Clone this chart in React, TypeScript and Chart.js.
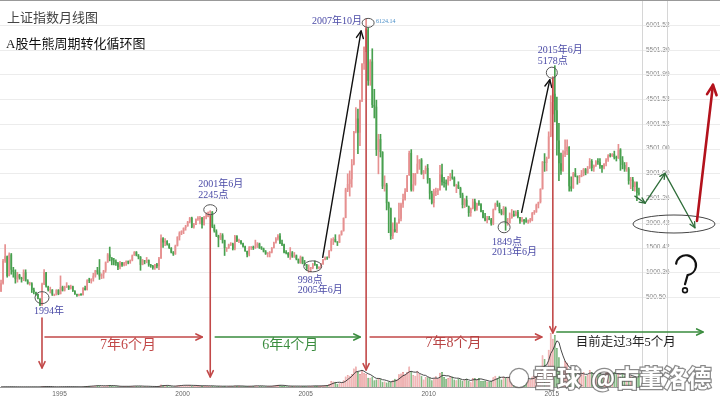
import React, { useEffect, useRef } from 'react';
import { Chart, registerables } from 'chart.js';
Chart.register(...registerables);

// ---------- categories (monthly, 1992-12 .. 2018-12) ----------
const firstYear = 1992;
const firstMonth = 12;
const slotCount = 313;
const months: string[] = [];
for (let i = 0; i < slotCount; i++) {
  const t = firstYear * 12 + (firstMonth - 1) + i;
  months.push(`${Math.floor(t / 12)}-${String((t % 12) + 1).padStart(2, '0')}`);
}

// ---------- monthly OHLC (open of a month = previous close) ----------
const firstOpen = 620;
const close1992 = [780];
const high1992 = [840];
const low1992 = [610];
const close1993 = [1234, 1324, 925, 1358, 1050, 1007, 860, 950, 890, 865, 1000, 833];
const high1993 = [1260, 1558, 1330, 1392, 1380, 1100, 1050, 1000, 960, 900, 1050, 1050];
const low1993 = [760, 1200, 900, 925, 960, 900, 780, 800, 860, 800, 830, 820];
const close1994 = [770, 775, 644, 600, 560, 467, 333, 760, 1000, 710, 640, 648];
const high1994 = [850, 800, 790, 680, 600, 560, 470, 780, 1052, 1000, 720, 700];
const low1994 = [760, 740, 590, 560, 530, 460, 325, 330, 750, 700, 620, 580];
const close1995 = [550, 550, 640, 560, 700, 630, 700, 720, 670, 715, 620, 555];
const high1995 = [650, 560, 650, 650, 927, 720, 720, 790, 730, 740, 720, 630];
const low1995 = [530, 525, 540, 545, 560, 620, 620, 690, 650, 660, 610, 550];
const close1996 = [537, 540, 538, 680, 640, 840, 830, 860, 930, 1040, 1000, 917];
const high1996 = [560, 560, 570, 690, 720, 850, 880, 870, 980, 1040, 1100, 1258];
const low1996 = [512, 520, 530, 535, 640, 640, 790, 780, 820, 900, 960, 855];
const close1997 = [960, 1035, 1200, 1360, 1290, 1240, 1220, 1180, 1100, 1200, 1140, 1194];
const high1997 = [970, 1040, 1210, 1380, 1510, 1300, 1280, 1250, 1200, 1220, 1200, 1200];
const low1997 = [870, 880, 1000, 1200, 1230, 1150, 1150, 1140, 1050, 1070, 1120, 1130];
const close1998 = [1220, 1200, 1240, 1340, 1410, 1340, 1310, 1150, 1240, 1220, 1250, 1147];
const high1998 = [1230, 1230, 1250, 1350, 1420, 1420, 1360, 1320, 1260, 1240, 1300, 1250];
const low1998 = [1140, 1170, 1180, 1230, 1340, 1330, 1270, 1040, 1150, 1170, 1190, 1120];
const close1999 = [1130, 1090, 1160, 1120, 1280, 1690, 1600, 1630, 1560, 1490, 1400, 1366];
const high1999 = [1160, 1140, 1160, 1180, 1300, 1756, 1700, 1680, 1640, 1580, 1500, 1420];
const low1999 = [1100, 1060, 1060, 1090, 1050, 1280, 1500, 1540, 1550, 1480, 1390, 1340];
const close2000 = [1535, 1715, 1800, 1836, 1894, 1930, 2020, 2100, 1910, 1960, 2070, 2073];
const high2000 = [1550, 1720, 1820, 1840, 1900, 1950, 2030, 2110, 2115, 1990, 2080, 2125];
const low2000 = [1360, 1530, 1650, 1760, 1780, 1850, 1930, 2000, 1900, 1890, 1960, 2050];
const close2001 = [2100, 1960, 2110, 2120, 2214, 2218, 1920, 1830, 1740, 1690, 1750, 1646];
const high2001 = [2130, 2110, 2130, 2200, 2220, 2245, 2230, 1960, 1860, 1750, 1790, 1780];
const low2001 = [1980, 1893, 1950, 2080, 2120, 2150, 1900, 1810, 1720, 1514, 1660, 1590];
const close2002 = [1490, 1490, 1560, 1580, 1470, 1730, 1630, 1640, 1580, 1520, 1430, 1357];
const high2002 = [1650, 1500, 1570, 1600, 1590, 1748, 1740, 1670, 1640, 1590, 1530, 1430];
const low2002 = [1339, 1420, 1480, 1540, 1450, 1450, 1620, 1600, 1570, 1510, 1420, 1311];
const close2003 = [1500, 1510, 1490, 1520, 1580, 1490, 1480, 1420, 1370, 1390, 1400, 1497];
const high2003 = [1520, 1520, 1530, 1650, 1600, 1590, 1520, 1490, 1440, 1400, 1420, 1500];
const low2003 = [1330, 1460, 1460, 1480, 1500, 1480, 1460, 1410, 1360, 1310, 1310, 1390];
const close2004 = [1600, 1680, 1740, 1590, 1560, 1400, 1390, 1340, 1400, 1320, 1340, 1266];
const high2004 = [1610, 1700, 1760, 1783, 1650, 1570, 1440, 1400, 1500, 1420, 1400, 1350];
const low2004 = [1490, 1590, 1650, 1580, 1540, 1390, 1370, 1300, 1260, 1300, 1300, 1250];
const close2005 = [1190, 1306, 1180, 1160, 1060, 1080, 1083, 1162, 1155, 1092, 1099, 1161];
const high2005 = [1270, 1330, 1310, 1240, 1160, 1150, 1100, 1180, 1230, 1160, 1110, 1180];
const low2005 = [1180, 1180, 1170, 1140, 1040, 998, 1005, 1070, 1140, 1070, 1070, 1090];
const close2006 = [1258, 1299, 1298, 1440, 1641, 1672, 1612, 1601, 1752, 1837, 2099, 2675];
const high2006 = [1260, 1310, 1300, 1440, 1680, 1700, 1760, 1620, 1760, 1840, 2100, 2700];
const low2006 = [1160, 1250, 1260, 1290, 1430, 1560, 1610, 1540, 1600, 1750, 1830, 2100];
const close2007 = [2786, 2881, 3183, 3841, 4109, 3820, 4471, 5218, 5552, 5955, 4871, 5262];
const high2007 = [2990, 3050, 3280, 3850, 4330, 4300, 4480, 5220, 5560, 6124, 5900, 5300];
const low2007 = [2630, 2540, 2720, 3170, 3820, 3400, 3560, 4450, 5100, 5460, 4780, 4780];
const close2008 = [4383, 4348, 3473, 3693, 3433, 2736, 2775, 2397, 2293, 1729, 1871, 1821];
const high2008 = [5520, 4700, 4480, 3790, 3790, 3440, 2950, 2800, 2420, 2300, 2000, 2100];
const low2008 = [4330, 4120, 3360, 2990, 3330, 2690, 2640, 2260, 1800, 1665, 1680, 1810];
const close2009 = [1991, 2083, 2373, 2478, 2633, 2959, 3412, 2667, 2779, 2996, 3195, 3277];
const high2009 = [2000, 2400, 2400, 2580, 2690, 2960, 3450, 3480, 3000, 3000, 3360, 3280];
const low2009 = [1800, 1990, 2040, 2310, 2460, 2630, 2960, 2640, 2640, 2760, 3000, 3080];
const close2010 = [2989, 3051, 3110, 2871, 2592, 2398, 2638, 2638, 2656, 2979, 2820, 2808];
const high2010 = [3300, 3060, 3150, 3180, 2900, 2640, 2680, 2700, 2690, 3160, 3186, 2920];
const low2010 = [2980, 2890, 2990, 2800, 2480, 2380, 2320, 2550, 2570, 2660, 2760, 2720];
const close2011 = [2790, 2905, 2928, 2911, 2743, 2762, 2701, 2567, 2359, 2468, 2333, 2199];
const high2011 = [2870, 2940, 3000, 3067, 2930, 2780, 2830, 2720, 2600, 2490, 2540, 2340];
const low2011 = [2660, 2760, 2850, 2880, 2740, 2610, 2690, 2510, 2300, 2307, 2330, 2130];
const close2012 = [2292, 2429, 2263, 2397, 2373, 2225, 2103, 2048, 2086, 2069, 1980, 2269];
const high2012 = [2300, 2480, 2480, 2400, 2450, 2390, 2250, 2190, 2130, 2130, 2090, 2280];
const low2012 = [2132, 2280, 2240, 2250, 2350, 2220, 2100, 2040, 2000, 2060, 1950, 1960];
const close2013 = [2385, 2365, 2237, 2178, 2301, 1979, 1994, 2098, 2175, 2141, 2220, 2116];
const high2013 = [2400, 2444, 2400, 2270, 2330, 2320, 2090, 2200, 2270, 2240, 2240, 2250];
const low2013 = [2260, 2330, 2200, 2160, 2160, 1849, 1950, 1990, 2090, 2130, 2140, 2100];
const close2014 = [2033, 2056, 2033, 2026, 2039, 2048, 2201, 2217, 2364, 2420, 2683, 3235];
const high2014 = [2110, 2110, 2070, 2100, 2060, 2090, 2210, 2250, 2380, 2420, 2690, 3240];
const low2014 = [1990, 2020, 1974, 2010, 1990, 2010, 2040, 2170, 2210, 2300, 2400, 2680];
const close2015 = [3210, 3310, 3748, 4442, 4612, 4277, 3664, 3206, 3053, 3383, 3445, 3539];
const high2015 = [3400, 3330, 3840, 4570, 4960, 5178, 4540, 4010, 3410, 3460, 3680, 3680];
const low2015 = [3040, 3050, 3300, 3740, 4200, 4040, 3370, 2850, 2980, 3040, 3340, 3380];
const close2016 = [2738, 2688, 3004, 2938, 2917, 2930, 2979, 3085, 3005, 3100, 3250, 3104];
const high2016 = [3540, 2930, 3020, 3100, 2950, 2960, 3060, 3100, 3100, 3140, 3300, 3280];
const low2016 = [2640, 2640, 2710, 2930, 2780, 2810, 2930, 2950, 2970, 3000, 3100, 3050];
const close2017 = [3159, 3242, 3223, 3155, 3117, 3192, 3273, 3361, 3349, 3393, 3317, 3307];
const high2017 = [3170, 3260, 3300, 3300, 3160, 3200, 3300, 3380, 3400, 3400, 3450, 3350];
const low2017 = [3040, 3140, 3180, 3100, 3020, 3090, 3150, 3240, 3330, 3340, 3290, 3250];
const close2018 = [3481, 3259, 3169, 3082, 3095, 2847, 2876, 2725, 2821, 2603, 2588];
const high2018 = [3587, 3500, 3340, 3220, 3220, 3120, 2920, 2920, 2830, 2830, 2700];
const low2018 = [3300, 3060, 3090, 3040, 3040, 2780, 2690, 2650, 2640, 2449, 2560];

// monthly volume (亿股)
const vol1992 = [30];
const vol1993 = [60, 90, 70, 80, 60, 50, 40, 50, 40, 35, 60, 45];
const vol1994 = [40, 35, 50, 40, 35, 30, 40, 180, 220, 120, 80, 70];
const vol1995 = [50, 40, 60, 50, 150, 80, 90, 100, 80, 90, 70, 50];
const vol1996 = [50, 40, 60, 150, 180, 250, 280, 260, 320, 400, 450, 400];
const vol1997 = [200, 250, 350, 500, 550, 250, 200, 180, 200, 200, 150, 180];
const vol1998 = [200, 180, 250, 300, 350, 250, 200, 250, 200, 180, 220, 150];
const vol1999 = [120, 100, 150, 150, 300, 700, 450, 400, 300, 200, 180, 150];
const vol2000 = [350, 500, 550, 450, 400, 450, 500, 550, 350, 300, 400, 350];
const vol2001 = [350, 250, 350, 350, 300, 300, 300, 200, 180, 250, 250, 200];
const vol2002 = [250, 150, 250, 300, 200, 400, 300, 250, 200, 180, 200, 180];
const vol2003 = [300, 250, 300, 400, 350, 250, 250, 200, 200, 250, 250, 300];
const vol2004 = [400, 500, 600, 500, 300, 250, 200, 200, 350, 250, 250, 200];
const vol2005 = [200, 300, 250, 250, 200, 300, 250, 350, 350, 250, 250, 300];
const vol2006 = [400, 500, 500, 800, 1600, 1500, 1400, 900, 1000, 1200, 1800, 2800];
const vol2007 = [3200, 3000, 3500, 5000, 5500, 4000, 3500, 4500, 3800, 3500, 2500, 2500];
const vol2008 = [2800, 1800, 2000, 2400, 2200, 1400, 1500, 1200, 1500, 1400, 1800, 2200];
const vol2009 = [2000, 3400, 3600, 4000, 3300, 4000, 5500, 4200, 3200, 3000, 4400, 3500];
const vol2010 = [3000, 2000, 2700, 2600, 2400, 1800, 2300, 2900, 2300, 3800, 4000, 2700];
const vol2011 = [2200, 2400, 2900, 2800, 2000, 1800, 2300, 2100, 1600, 2000, 2300, 1600];
const vol2012 = [1300, 2400, 2400, 2000, 2400, 1700, 1700, 1600, 1500, 1400, 1600, 2600];
const vol2013 = [3000, 2400, 3000, 2000, 2800, 2500, 2600, 2900, 3200, 2700, 2500, 2500];
const vol2014 = [2300, 2600, 2400, 2000, 1900, 2000, 2800, 3200, 3700, 3800, 5200, 8500];
const vol2015 = [7500, 4500, 10000, 14500, 13000, 14000, 10500, 8000, 4500, 4800, 7000, 6500];
const vol2016 = [4000, 3000, 4500, 3800, 3000, 3200, 3800, 4000, 3000, 3200, 4600, 4000];
const vol2017 = [3000, 3300, 4200, 3700, 3000, 3000, 3900, 4200, 3400, 3000, 4100, 3400];
const vol2018 = [4000, 2800, 3800, 3100, 3300, 3000, 2900, 2700, 2200, 2400, 3600];

const closes = [...close1992, ...close1993, ...close1994, ...close1995, ...close1996, ...close1997, ...close1998, ...close1999, ...close2000, ...close2001, ...close2002, ...close2003, ...close2004, ...close2005, ...close2006, ...close2007, ...close2008, ...close2009, ...close2010, ...close2011, ...close2012, ...close2013, ...close2014, ...close2015, ...close2016, ...close2017, ...close2018];
const highs = [...high1992, ...high1993, ...high1994, ...high1995, ...high1996, ...high1997, ...high1998, ...high1999, ...high2000, ...high2001, ...high2002, ...high2003, ...high2004, ...high2005, ...high2006, ...high2007, ...high2008, ...high2009, ...high2010, ...high2011, ...high2012, ...high2013, ...high2014, ...high2015, ...high2016, ...high2017, ...high2018];
const lows = [...low1992, ...low1993, ...low1994, ...low1995, ...low1996, ...low1997, ...low1998, ...low1999, ...low2000, ...low2001, ...low2002, ...low2003, ...low2004, ...low2005, ...low2006, ...low2007, ...low2008, ...low2009, ...low2010, ...low2011, ...low2012, ...low2013, ...low2014, ...low2015, ...low2016, ...low2017, ...low2018];
const volumes = [...vol1992, ...vol1993, ...vol1994, ...vol1995, ...vol1996, ...vol1997, ...vol1998, ...vol1999, ...vol2000, ...vol2001, ...vol2002, ...vol2003, ...vol2004, ...vol2005, ...vol2006, ...vol2007, ...vol2008, ...vol2009, ...vol2010, ...vol2011, ...vol2012, ...vol2013, ...vol2014, ...vol2015, ...vol2016, ...vol2017, ...vol2018];
const opens = closes.map((c, i) => (i === 0 ? firstOpen : closes[i - 1]));

// ---------- axes ----------
const yTickValues = [6000, 5500, 5000, 4500, 4000, 3500, 3000, 2500, 2000, 1500, 1000, 500];
const yTickLabels = ['6001.52', '5501.30', '5001.99', '4501.53', '4001.52', '3501.00', '3001.00', '2501.26', '2000.42', '1500.42', '1000.36', '500.50'];
const xTickYears = ['1995', '2000', '2005', '2010', '2015'];

// ---------- key points of the cycle ----------
const keyMonths = ['1994-07', '2001-06', '2005-06', '2007-10', '2013-06', '2015-06'];
const keyValues = [325, 2245, 998, 6124, 1849, 5178];
// projected path (slot index, value)
const projSlots = [309, 314, 323.7, 338.3];
const projValues = [2540, 2400, 3000, 1900];
const rallySlots = [339.3, 347.1];
const rallyValues = [2040, 4790];
const supportSlot = 328.1;
const supportValue = 1976;

const UP = '#e69090';
const DOWN = '#48a04f';
const RED = '#c24848';
const GREEN = '#3a8c3e';
const BLUE = '#4a4aa6';
const SERIF_CJK = "'Liberation Serif', 'Noto Sans CJK SC', serif";
const CJK = "'Noto Sans CJK SC', sans-serif";

function arrow(ctx: CanvasRenderingContext2D, x1: number, y1: number, x2: number, y2: number, color: string, width: number, head: number) {
  ctx.save();
  ctx.strokeStyle = color;
  ctx.lineWidth = width;
  ctx.lineCap = 'round';
  ctx.lineJoin = 'round';
  const a = Math.atan2(y2 - y1, x2 - x1);
  ctx.beginPath();
  ctx.moveTo(x1, y1);
  ctx.lineTo(x2, y2);
  ctx.stroke();
  ctx.beginPath();
  ctx.moveTo(x2 - head * Math.cos(a - 0.45), y2 - head * Math.sin(a - 0.45));
  ctx.lineTo(x2, y2);
  ctx.lineTo(x2 - head * Math.cos(a + 0.45), y2 - head * Math.sin(a + 0.45));
  ctx.stroke();
  ctx.restore();
}

function ellipse(ctx: CanvasRenderingContext2D, x: number, y: number, rx: number, ry: number, color = '#555', w = 1) {
  ctx.save();
  ctx.strokeStyle = color;
  ctx.lineWidth = w;
  ctx.beginPath();
  ctx.ellipse(x, y, rx, ry, 0, 0, Math.PI * 2);
  ctx.stroke();
  ctx.restore();
}

function text(ctx: CanvasRenderingContext2D, s: string, x: number, y: number, font: string, color: string, align: CanvasTextAlign = 'left') {
  ctx.save();
  ctx.font = font;
  ctx.fillStyle = color;
  ctx.textAlign = align;
  ctx.textBaseline = 'middle';
  ctx.fillText(s, x, y);
  ctx.restore();
}

function questionMark(ctx: CanvasRenderingContext2D, cx: number, cy: number) {
  ctx.save();
  ctx.strokeStyle = '#111';
  ctx.lineWidth = 2.2;
  ctx.lineCap = 'round';
  ctx.beginPath();
  ctx.arc(cx, cy - 7, 10, Math.PI * 1.05, Math.PI * 2.45, false);
  ctx.lineTo(cx - 1, cy + 12);
  ctx.stroke();
  ctx.lineWidth = 1.6;
  ctx.beginPath();
  ctx.arc(cx - 1, cy + 18, 2.4, 0, Math.PI * 2);
  ctx.stroke();
  ctx.restore();
}

const annotPlugin = {
  id: 'annot',
  beforeDatasetsDraw(chart: any) {
    const ctx = chart.ctx as CanvasRenderingContext2D;
    const ys = chart.scales.y;
    const ca = chart.chartArea;
    ctx.save();
    ctx.strokeStyle = '#ececec';
    ctx.lineWidth = 1;
    yTickValues.forEach((v) => {
      const y = Math.round(ys.getPixelForValue(v)) + 0.5;
      ctx.beginPath();
      ctx.moveTo(0, y);
      ctx.lineTo(chart.width, y);
      ctx.stroke();
    });
    ctx.strokeStyle = '#d6d6d6';
    [ca.right + 0.5, ca.right + 25.5].forEach((x) => {
      ctx.beginPath();
      ctx.moveTo(x, 0);
      ctx.lineTo(x, ca.bottom);
      ctx.stroke();
    });
    ctx.strokeStyle = '#999';
    ctx.beginPath();
    ctx.moveTo(0, 0.5);
    ctx.lineTo(chart.width, 0.5);
    ctx.stroke();
    ctx.restore();
  },
  afterDatasetsDraw(chart: any) {
    const ctx = chart.ctx as CanvasRenderingContext2D;
    const xs = chart.scales.x;
    const ys = chart.scales.y;
    const ca = chart.chartArea;
    const bottom = ca.bottom;
    const P = keyMonths.map((m, i) => ({ x: xs.getPixelForValue(months.indexOf(m)), y: ys.getPixelForValue(keyValues[i]) }));

    // titles
    text(ctx, '上证指数月线图', 7, 17, `13px ${CJK}`, '#444');
    text(ctx, 'A股牛熊周期转化循环图', 6, 45, `13px ${SERIF_CJK}`, '#111');

    // circles
    ellipse(ctx, P[0].x + 2, P[0].y - 8, 7, 6);
    ellipse(ctx, P[1].x, P[1].y - 1, 6.5, 5);
    ellipse(ctx, P[2].x + 4, P[2].y - 6, 9, 5.5);
    ellipse(ctx, P[3].x + 2, P[3].y + 4, 6, 4.5);
    ellipse(ctx, P[4].x - 1.5, P[4].y - 3, 6, 5.5);
    ellipse(ctx, P[5].x - 3, P[5].y + 7, 5.5, 5.5);

    // point labels
    const f10 = `10px ${SERIF_CJK}`;
    text(ctx, '1994年', P[0].x + 9, P[0].y + 5.5, f10, BLUE, 'center');
    text(ctx, '2001年6月', P[1].x - 12, P[1].y - 26, f10, BLUE);
    text(ctx, '2245点', P[1].x - 12, P[1].y - 15, f10, BLUE);
    text(ctx, '998点', P[2].x - 11, P[2].y + 8, f10, BLUE);
    text(ctx, '2005年6月', P[2].x - 11, P[2].y + 18, f10, BLUE);
    text(ctx, '2007年10月', P[3].x - 4, P[3].y + 3, f10, BLUE, 'right');
    text(ctx, '6124.14', P[3].x + 10, P[3].y + 3, `6px ${SERIF_CJK}`, '#4a8fc8');
    text(ctx, '1849点', P[4].x - 13.5, P[4].y + 12, f10, BLUE);
    text(ctx, '2013年6月', P[4].x - 13.5, P[4].y + 22, f10, BLUE);
    text(ctx, '2015年6月', P[5].x - 17, P[5].y - 15, f10, BLUE);
    text(ctx, '5178点', P[5].x - 17, P[5].y - 4, f10, BLUE);

    // rally arrows
    arrow(ctx, P[2].x + 14, P[2].y - 15, P[3].x - 5, P[3].y + 12, '#111', 1.4, 8);
    arrow(ctx, P[4].x + 16, P[4].y - 18, P[5].x - 5, P[5].y + 14, '#111', 1.4, 8);

    // vertical red markers
    arrow(ctx, P[0].x + 2, bottom - 69, P[0].x + 2, bottom - 19, RED, 1.6, 7);
    arrow(ctx, P[1].x, P[1].y + 5, P[1].x, bottom - 10, RED, 1.6, 7);
    arrow(ctx, P[3].x, P[3].y + 10, P[3].x, bottom - 17, RED, 1.6, 7);
    arrow(ctx, P[5].x - 2, P[5].y + 13, P[5].x - 2, bottom - 54, RED, 1.6, 7);

    // durations
    const hy = bottom - 50;
    arrow(ctx, P[0].x + 5, hy, P[1].x - 8, hy, RED, 1.6, 7);
    arrow(ctx, P[1].x + 5, hy, P[3].x - 6, hy, GREEN, 1.6, 7);
    arrow(ctx, P[3].x + 4, hy, P[5].x - 13, hy, RED, 1.6, 7);
    arrow(ctx, P[5].x + 2, bottom - 55, chart.width - 17, bottom - 55, GREEN, 1.6, 7);
    const f14 = `14px ${SERIF_CJK}`;
    text(ctx, '7年6个月', (P[0].x + P[1].x) / 2 + 3, hy + 8, f14, RED, 'center');
    text(ctx, '6年4个月', (P[1].x + P[3].x) / 2 + 2, hy + 8, f14, GREEN, 'center');
    text(ctx, '7年8个月', (P[3].x + P[5].x) / 2 - 7, hy + 6, f14, '#b84444', 'center');
    text(ctx, '目前走过3年5个月', P[5].x + 71, hy + 6, `12.5px ${SERIF_CJK}`, '#222', 'center');

    // projection
    const pp = projSlots.map((s, i) => ({ x: xs.getPixelForValue(s), y: ys.getPixelForValue(projValues[i]) }));
    for (let i = 0; i < pp.length - 1; i++) arrow(ctx, pp[i].x, pp[i].y, pp[i + 1].x, pp[i + 1].y, '#2f6e3a', 1.3, 6);
    ellipse(ctx, xs.getPixelForValue(supportSlot), ys.getPixelForValue(supportValue), 41, 9, '#444', 1);
    arrow(ctx, xs.getPixelForValue(rallySlots[0]), ys.getPixelForValue(rallyValues[0]), xs.getPixelForValue(rallySlots[1]), ys.getPixelForValue(rallyValues[1]), '#b3121c', 2.6, 11);
    questionMark(ctx, ca.right + 44, ys.getPixelForValue(1000));

    // watermark
    ctx.save();
    ctx.font = `bold 24px ${CJK}`;
    ctx.textBaseline = 'middle';
    ctx.lineWidth = 2.5;
    ctx.strokeStyle = 'rgba(90,90,90,0.7)';
    ctx.fillStyle = '#ffffff';
    const wy = bottom - 9;
    ctx.strokeText('雪球', 533, wy);
    ctx.fillText('雪球', 533, wy);
    ctx.strokeText('@古董洛德', 591, wy);
    ctx.fillText('@古董洛德', 591, wy);
    ctx.beginPath();
    ctx.arc(519, wy, 9, 0, Math.PI * 2);
    ctx.stroke();
    ctx.fill();
    ctx.restore();
  },
};

const volumeMA = volumes.map((v, i) => {
  const s = volumes.slice(Math.max(0, i - 4), i + 1);
  return s.reduce((a, b) => a + b, 0) / s.length;
});

export default function App() {
  const ref = useRef<HTMLCanvasElement>(null);
  useEffect(() => {
    document.body.style.margin = '0';
    const up = closes.map((c, i) => c >= opens[i]);
    const chart = new Chart(ref.current as HTMLCanvasElement, {
      type: 'bar',
      data: {
        labels: months,
        datasets: [
          {
            label: 'vol',
            data: volumes,
            yAxisID: 'yv',
            backgroundColor: up.map((u) => (u ? '#f2acac' : '#70b270')),
            borderColor: up.map((u) => (u ? '#d87070' : '#4b934b')),
            borderWidth: 0.5,
            grouped: false,
            barPercentage: 0.9,
            categoryPercentage: 1,
            order: 5,
          } as any,
          {
            type: 'line',
            label: 'volMA',
            data: volumeMA,
            yAxisID: 'yv',
            borderColor: '#333',
            borderWidth: 0.9,
            pointRadius: 0,
            order: 4,
          } as any,
          {
            label: 'wick',
            data: lows.map((l, i) => [l, highs[i]]),
            yAxisID: 'y',
            backgroundColor: up.map((u) => (u ? UP : DOWN)),
            barThickness: 1,
            grouped: false,
            order: 3,
          } as any,
          {
            label: 'body',
            data: opens.map((o, i) => [o, closes[i]]),
            yAxisID: 'y',
            backgroundColor: up.map((u) => (u ? UP : DOWN)),
            barPercentage: 0.8,
            categoryPercentage: 1,
            minBarLength: 1,
            grouped: false,
            order: 2,
          } as any,
        ],
      },
      options: {
        responsive: false,
        animation: false,
        events: [],
        layout: { padding: 0 },
        plugins: { legend: { display: false }, tooltip: { enabled: false }, title: { display: false } },
        scales: {
          x: {
            type: 'category',
            offset: true,
            grid: { display: false, drawTicks: false },
            border: { display: true, color: '#999' },
            ticks: {
              autoSkip: false,
              maxRotation: 0,
              minRotation: 0,
              align: 'start',
              padding: 3,
              color: '#666',
              font: { size: 6.5, family: "'Liberation Sans', sans-serif" },
              callback: (_v: any, i: number) => {
                const m = months[i];
                return m.endsWith('-01') && xTickYears.includes(m.slice(0, 4)) ? m.slice(0, 4) : '';
              },
            },
            afterFit: (s: any) => {
              s.height = 13;
              s.paddingLeft = 0;
              s.paddingRight = 0;
            },
          },
          y: {
            position: 'right',
            min: -1320,
            max: 6505.5,
            grid: { display: false, drawTicks: false },
            border: { display: false },
            afterBuildTicks: (s: any) => {
              s.ticks = yTickValues.map((v) => ({ value: v }));
            },
            ticks: {
              padding: 4,
              color: '#888',
              font: { size: 6.5, family: "'Liberation Sans', sans-serif" },
              callback: (v: any) => {
                const k = yTickValues.indexOf(Number(v));
                return k >= 0 ? yTickLabels[k] : '';
              },
            },
            afterFit: (s: any) => {
              s.width = 78;
              s.paddingTop = 0;
              s.paddingBottom = 0;
            },
          },
          yv: {
            display: false,
            min: 0,
            max: 104000,
          },
        },
      } as any,
      plugins: [annotPlugin],
    });
    return () => chart.destroy();
  }, []);
  return (
    <div style={{ width: 720, height: 400, background: '#ffffff' }}>
      <canvas ref={ref} width={720} height={400} style={{ display: 'block' }} />
    </div>
  );
}
